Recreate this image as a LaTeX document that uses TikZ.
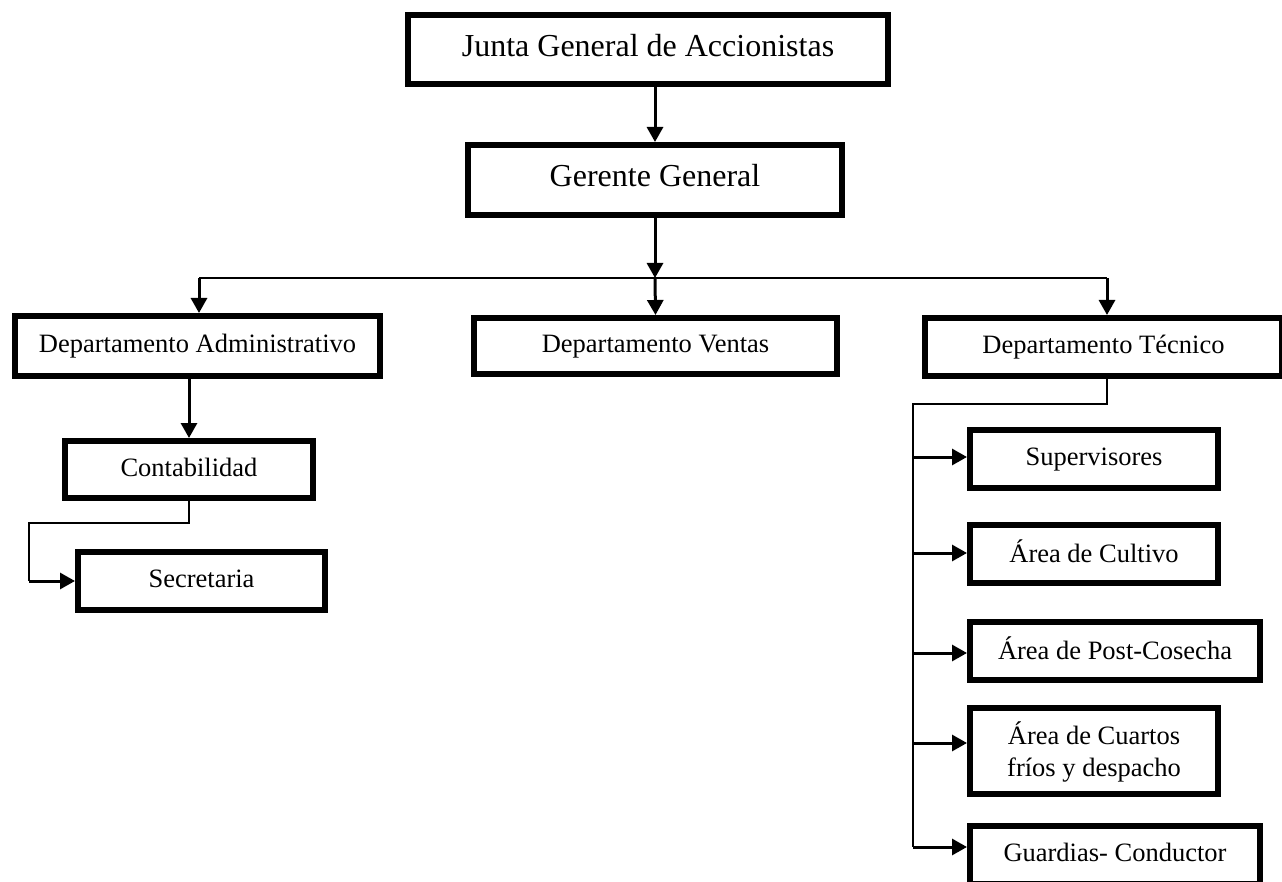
\documentclass[tikz,border=0pt]{standalone}
\usepackage{fontspec}
\setmainfont{Liberation Serif}
\usetikzlibrary{arrows.meta}

\newcommand{\bigtext}{\fontsize{32}{38}\selectfont}
\newcommand{\smalltext}{\fontsize{26.5}{31.8}\selectfont}
% invisible rules that fix the height and depth of a text line
\newcommand{\linerule}{\rule[-6.5pt]{0pt}{26.5pt}}
\newcommand{\biglinerule}{\rule[-9pt]{0pt}{22pt}}

\tikzset{
  orgbox/.style={draw=black, line width=6pt, fill=white, inner sep=0pt,
    font=\smalltext, execute at begin node=\linerule},
  twolines/.style={draw=black, line width=6pt, fill=white, inner sep=0pt,
    font=\smalltext},
  bigbox/.style={draw=black, line width=6pt, fill=white, inner sep=0pt,
    font=\bigtext, execute at begin node=\biglinerule},
  tip/.style={-{Triangle[length=15pt,width=16pt]}},
  link/.style={tip, line width=3pt},
  thinlink/.style={line width=1.7pt},
}

\begin{document}
\begin{tikzpicture}[x=1pt, y=-1pt]
\useasboundingbox (0,0) rectangle (1282,882);
\clip (0,0) rectangle (1282,882);

% Top levels (sizes are inner sizes: outer minus the 6pt border)
\node[bigbox, minimum width=480pt, minimum height=69pt] (junta) at (648,49.5) {Junta General de Accionistas};
\node[bigbox, minimum width=374pt, minimum height=70pt] (gerente) at (655,180) {Gerente General};

% Departments
\node[orgbox, minimum width=365pt, minimum height=60pt] (admin) at (197.5,346) {Departamento Administrativo};
\node[orgbox, minimum width=363pt, minimum height=56pt] (ventas) at (655.5,346) {Departamento Ventas};
\node[orgbox, minimum width=357pt, minimum height=58pt] (tecnico) at (1103.5,347) {Departamento Técnico};

% Administrative branch
\node[orgbox, minimum width=248pt, minimum height=57pt] (contab) at (189,469.5) {Contabilidad};
\node[orgbox, minimum width=247pt, minimum height=58pt] (secre) at (201.5,581) {Secretaria};

% Technical branch
\node[orgbox, minimum width=248pt, minimum height=58pt] (super) at (1094,459) {Supervisores};
\node[orgbox, minimum width=248pt, minimum height=58pt] (cultivo) at (1094,554) {Área de Cultivo};
\node[orgbox, minimum width=290pt, minimum height=58pt] (post) at (1115,651) {Área de Post-Cosecha};
\node[twolines, minimum width=248pt, minimum height=86pt] (cuartos) at (1094,751)
  {\rule{0pt}{44pt}\begin{tabular}{@{}c@{}}Área de Cuartos\\fríos y despacho\end{tabular}};
\node[orgbox, minimum width=290pt, minimum height=58pt] (guard) at (1115,855) {Guardias- Conductor};

% Junction points
\coordinate (bus) at (655,278);
\coordinate (busL) at (199,278);
\coordinate (busR) at (1107,278);
\coordinate (elbowA) at (29,523);
\coordinate (spine) at (913,404);

% Entry points of the branch arrows on the technical boxes
\coordinate (superIn)   at ([yshift=2pt]super.west);
\coordinate (cultivoIn) at ([yshift=1pt]cultivo.west);
\coordinate (postIn)    at ([yshift=-2pt]post.west);
\coordinate (cuartosIn) at ([yshift=8pt]cuartos.west);
\coordinate (guardIn)   at ([yshift=8pt]guard.west);

% Main chain
\draw[link] (junta.south -| gerente.north) -- (gerente.north);
\draw[link] (gerente.south) -- (bus);
\draw[thinlink] (busL) -- (busR);
\draw[link] (busL) -- (busL |- admin.north);
\draw[link] (bus) -- (ventas.north);
\draw[link] (busR) -- (busR |- tecnico.north);

% Administrative branch
\draw[link] (contab.north |- admin.south) -- (contab.north);
\draw[thinlink] (contab.south) |- (elbowA) -- (elbowA |- secre.west);
\draw[link] (elbowA |- secre.west) -- (secre.west);

% Technical branch
\draw[thinlink] (tecnico.south -| busR) |- (spine) -- (spine |- guardIn);
\foreach \n in {superIn, cultivoIn, postIn, cuartosIn, guardIn}
  \draw[link] (spine |- \n) -- (\n);

\end{tikzpicture}
\end{document}
